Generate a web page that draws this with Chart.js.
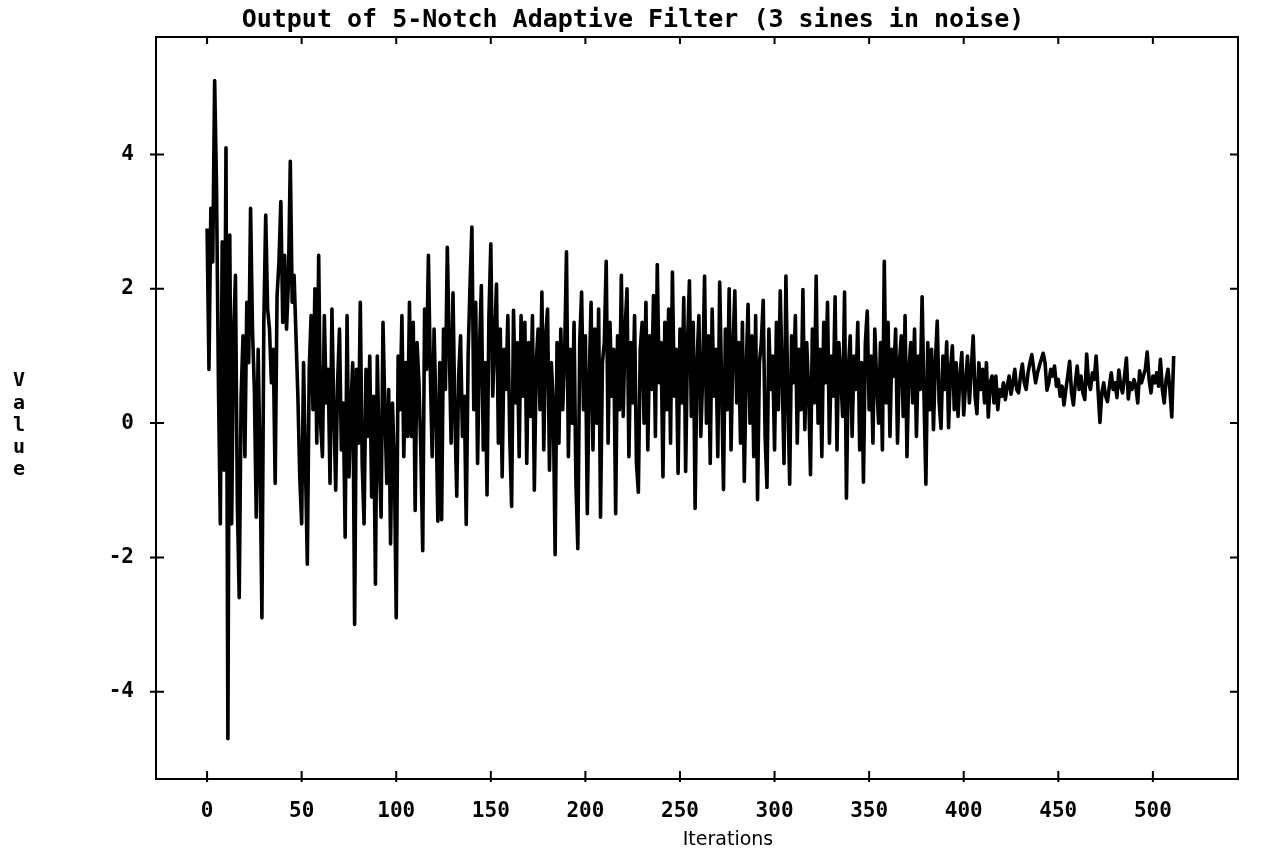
<!DOCTYPE html>
<html>
<head>
<meta charset="utf-8">
<script src="https://cdn.jsdelivr.net/npm/chart.js@4/dist/chart.umd.min.js"></script>
<style>
html, body { margin: 0; padding: 0; background: #fff; }
#wrap { width: 1261px; height: 858px; }
</style>
</head>
<body>
<div id="wrap"><canvas id="chart" width="1261" height="858"></canvas></div>
<script>
const chartTitle = "Output of 5-Notch Adaptive Filter (3 sines in noise)";
const xAxisLabel = "Iterations";
const yAxisLabel = "Value";
const xTickValues = [0, 50, 100, 150, 200, 250, 300, 350, 400, 450, 500];
const yTickValues = [-4, -2, 0, 2, 4];

// filter output, one value per iteration
const filterOutput = [
  2.9, 0.8, 3.2, 2.4, 5.1, 3.5, 0.6, -1.5, 2.7, -0.7,
  4.1, -4.7, 2.8, -1.5, 1.3, 2.2, -1.2, -2.6, 0.4, 1.3,
  -0.5, 1.8, 0.9, 3.2, 1.4, 0.5, -1.4, 1.1, -0.6, -2.9,
  1.5, 3.1, 1.7, 1.4, 0.6, 1.1, -0.9, 1.9, 2.4, 3.3,
  1.5, 2.5, 1.4, 2.1, 3.9, 1.8, 2.2, 1.3, 0.4, -0.8,
  -1.5, 0.9, -0.6, -2.1, 0.8, 1.6, 0.2, 2.0, -0.3, 2.5,
  0.0, -0.5, 1.6, 0.3, 0.8, -0.9, 1.7, 0.2, -1.0, 0.6,
  1.4, -0.4, 0.3, -1.7, 1.6, -0.8, 0.2, 0.9, -3.0, 0.8,
  -0.3, 1.8, -0.6, -1.5, 0.8, -0.2, 1.0, -1.1, 0.4, -2.4,
  1.0, -0.5, -1.4, 1.5, 0.2, -0.9, 0.5, -1.8, 0.3, -0.6,
  -2.9, 1.0, 0.2, 1.6, -0.5, 0.9, -0.2, 1.8, -0.2, 1.5,
  -1.3, 1.2, 0.6, -0.4, -1.9, 1.7, 0.8, 2.5, 0.8, -0.5,
  1.4, 0.2, -1.46, 0.9, -1.44, 1.4, 0.5, 2.62, 1.2, -0.3,
  1.94, 0.1, -1.09, 0.7, 1.3, -0.2, 0.4, -1.51, 1.0, 2.05,
  2.92, 0.2, 1.8, -0.6, 1.1, 2.05, -0.4, 0.9, -1.07, 1.6,
  2.67, 0.4, 1.2, 2.07, -0.3, 1.4, -0.8, 1.1, 0.5, 1.6,
  -0.2, -1.24, 1.68, 0.3, 1.2, -0.5, 1.6, 0.4, 1.5, -0.6,
  1.2, 0.1, 1.6, -1.0, 0.9, 1.4, 0.2, 1.95, -0.4, 1.3,
  1.7, -0.7, 0.9, 0.3, -1.96, 1.2, -0.3, 1.4, 0.2, 1.0,
  2.55, -0.5, 1.1, 0.0, 1.5, -0.9, -1.87, 1.2, 1.95, 0.2,
  1.3, -1.35, 0.6, 1.8, -0.4, 1.4, 0.0, 1.7, -1.4, 0.9,
  1.2, 2.41, -0.3, 1.5, 0.4, 1.1, -1.35, 1.3, 0.2, 2.2,
  0.1, 1.4, 2.0, -0.5, 1.2, 0.3, 1.6, -0.6, -1.03, 1.1,
  1.5, 0.0, 1.8, -0.4, 1.3, 0.5, 1.9, -0.2, 2.36, 0.6,
  1.2, -0.8, 1.5, 0.2, 1.7, -0.3, 2.25, 0.4, 1.1, -0.75,
  1.4, 0.3, 1.87, -0.72, 1.2, 2.12, 0.1, 1.5, -1.27, 0.9,
  1.6, -0.2, 0.7, 2.19, 0.0, 1.3, -0.6, 1.7, 0.4, 1.1,
  -0.5, 2.1, 0.6, -0.99, 1.4, 0.2, 2.0, -0.4, 1.1, 1.97,
  0.3, 1.2, -0.3, 1.5, -0.87, 0.8, 1.77, 0.0, 1.3, -0.5,
  1.6, -1.14, 0.9, 1.2, 1.83, -0.2, -0.96, 1.4, 0.5, 1.0,
  -0.4, 1.5, 0.2, 1.97, 0.7, -0.6, 2.19, 0.4, -0.91, 1.3,
  0.6, 1.6, -0.3, 1.1, 0.2, 1.99, -0.1, 1.2, 0.5, -0.77,
  1.4, 0.3, 2.19, 0.0, 1.1, -0.5, 1.5, 0.6, 1.8, -0.3,
  1.0, 0.4, 1.88, -0.4, 1.2, 0.7, 0.1, 1.95, -1.12, 0.8,
  1.3, -0.2, 1.0, 0.5, 1.5, -0.4, 0.9, -0.88, 1.2, 1.67,
  0.2, 1.0, -0.3, 1.4, 0.6, 0.0, 1.2, -0.4, 2.41, 0.3,
  1.5, -0.2, 1.1, 0.7, 1.4, -0.3, 0.9, 1.3, 0.1, 1.6,
  -0.5, 0.8, 1.2, 0.3, 1.4, -0.2, 1.0, 0.5, 1.88, 0.4,
  -0.91, 1.2, 0.2, 1.1, -0.1, 0.9, 1.52, 0.3, -0.08, 1.0,
  0.5, 1.21, -0.07, 0.8, 1.15, 0.2, 0.9, 0.1, 0.7, 1.05,
  0.12, 0.6, 1.0, 0.3, 0.8, 1.3, 0.4, 0.14, 0.9, 0.5,
  0.8, 0.3, 0.9, 0.09, 0.6, 0.7, 0.3, 0.7, 0.2, 0.5,
  0.4, 0.6, 0.35, 0.55, 0.7, 0.43, 0.6, 0.8, 0.5, 0.45,
  0.7, 0.88, 0.6, 0.5, 0.75, 0.9, 1.02, 0.8, 0.6, 0.75,
  0.85, 0.95, 1.04, 0.9, 0.49, 0.6, 0.8, 0.7, 0.85, 0.55,
  0.65, 0.4, 0.55, 0.27, 0.5, 0.7, 0.92, 0.45, 0.27, 0.6,
  0.85, 0.5, 0.7, 0.45, 0.35, 1.03, 0.6, 0.5, 0.75, 0.65,
  1.0, 0.5, 0.01, 0.45, 0.6, 0.4, 0.32, 0.55, 0.75, 0.5,
  0.6, 0.38, 0.79, 0.55, 0.45, 0.7, 0.97, 0.36, 0.6, 0.5,
  0.65, 0.55, 0.3, 0.78, 0.6, 0.7, 0.8, 1.06, 0.65, 0.45,
  0.7, 0.6, 0.75, 0.55, 0.95, 0.5, 0.3, 0.65, 0.8, 0.5,
  0.09, 1.0
];
const iterations = filterOutput.map((v, i) => i);

// box, inward ticks, stacked "Value" label and the x label
const frameTicks = {
  id: "frameTicks",
  afterDraw(chart) {
    const { ctx, chartArea: { left, right, top, bottom }, scales: { x, y } } = chart;
    ctx.save();
    ctx.strokeStyle = "#000";
    ctx.lineWidth = 2;
    ctx.strokeRect(left, top, right - left, bottom - top);
    ctx.beginPath();
    xTickValues.forEach((v) => {
      const px = x.getPixelForValue(v);
      ctx.moveTo(px, bottom + 3);
      ctx.lineTo(px, bottom - 8);
      ctx.moveTo(px, top);
      ctx.lineTo(px, top + 7);
    });
    yTickValues.forEach((v) => {
      const py = y.getPixelForValue(v);
      ctx.moveTo(left - 6, py);
      ctx.lineTo(left + 8, py);
      ctx.moveTo(right - 8, py);
      ctx.lineTo(right + 1, py);
    });
    ctx.stroke();
    ctx.fillStyle = "#000";
    ctx.textAlign = "center";
    ctx.textBaseline = "middle";
    ctx.font = "bold 20px 'DejaVu Sans Mono'";
    yAxisLabel.split("").forEach((ch, k) => ctx.fillText(ch, 19, 381 + k * 22.3));
    ctx.font = "19px 'DejaVu Sans'";
    ctx.fillText(xAxisLabel, 728, 840);
    ctx.restore();
  }
};

new Chart(document.getElementById("chart"), {
  type: "line",
  data: {
    datasets: [{
      data: iterations.map((it, k) => ({ x: it, y: filterOutput[k] })),
      borderColor: "#000",
      borderWidth: 3.6,
      borderJoinStyle: "round",
      pointRadius: 0,
      tension: 0,
      fill: false
    }]
  },
  options: {
    responsive: false,
    animation: false,
    devicePixelRatio: 1,
    layout: { padding: { left: 28, right: 23, top: 0, bottom: 0 } },
    plugins: {
      legend: { display: false },
      tooltip: { enabled: false },
      title: {
        display: true,
        text: chartTitle,
        color: "#000",
        font: { family: "'DejaVu Sans Mono'", size: 25, weight: "bold", lineHeight: 1.2 },
        padding: { top: 5, bottom: 2 }
      }
    },
    scales: {
      x: {
        type: "linear",
        min: -27,
        max: 545,
        afterBuildTicks: (scale) => { scale.ticks = xTickValues.map((v) => ({ value: v })); },
        afterFit: (scale) => { scale.height = 79; },
        grid: { display: false, drawTicks: false },
        border: { display: false },
        ticks: {
          color: "#000",
          padding: 20,
          maxRotation: 0,
          font: { family: "'DejaVu Sans Mono'", size: 21, weight: "bold" }
        }
      },
      y: {
        min: -5.3,
        max: 5.75,
        afterBuildTicks: (scale) => { scale.ticks = yTickValues.map((v) => ({ value: v })); },
        afterFit: (scale) => { scale.width = 128; },
        grid: { display: false, drawTicks: false },
        border: { display: false },
        ticks: {
          color: "#000",
          padding: 22,
          font: { family: "'DejaVu Sans Mono'", size: 21, weight: "bold" }
        }
      }
    }
  },
  plugins: [frameTicks]
});
</script>
</body>
</html>
